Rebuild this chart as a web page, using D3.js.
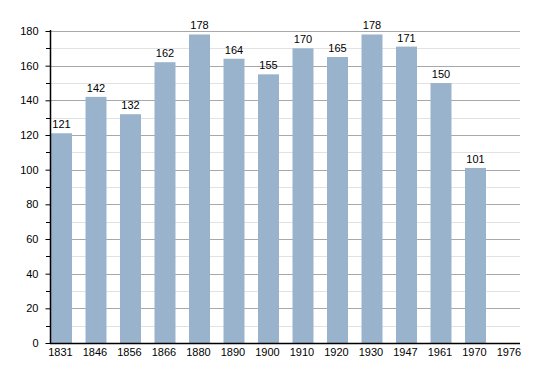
<!DOCTYPE html>
<html>
<head>
<meta charset="utf-8">
<script src="https://cdn.jsdelivr.net/npm/d3@7"></script>
<style>
body{margin:0;background:#fff}
text{font-family:"Liberation Sans",Arial,sans-serif;font-size:11px;fill:#000}
</style>
</head>
<body>
<div id="chart"></div>
<script>
var years = ["1831","1846","1856","1866","1880","1890","1900","1910","1920","1930","1947","1961","1970","1976"]
var population = [121,142,132,162,178,164,155,170,165,178,171,150,101,null]
var majorTicks = [0,20,40,60,80,100,120,140,160,180]
var minorTicks = [10,30,50,70,90,110,130,150,170]

var width = 550, height = 373
var plotLeft = 50, plotRight = 520, plotTop = 31, plotBottom = 343

var svg = d3.select("#chart").append("svg").attr("width",width).attr("height",height)

var y = d3.scaleLinear().domain([0,180]).range([plotBottom,plotTop])
var x = d3.scaleBand().domain(years).range([51,51+34.5*years.length]).padding(0)
var barWidth = 21

// grid
svg.selectAll(".minor").data(minorTicks).enter().append("line")
    .attr("x1",plotLeft).attr("x2",plotRight)
    .attr("y1",function(d){return Math.round(y(d))+0.5})
    .attr("y2",function(d){return Math.round(y(d))+0.5})
    .attr("stroke","#e2e2e2")
svg.selectAll(".major").data(majorTicks.slice(1)).enter().append("line")
    .attr("x1",plotLeft).attr("x2",plotRight)
    .attr("y1",function(d){return Math.round(y(d))+0.5})
    .attr("y2",function(d){return Math.round(y(d))+0.5})
    .attr("stroke","#a8a8a8")

// bars
var data = years.map(function(d,i){return {year:d,value:population[i]}}).filter(function(d){return d.value!=null})
svg.selectAll(".bar").data(data).enter().append("rect")
    .attr("x",function(d){return x(d.year)})
    .attr("y",function(d){return y(d.value)})
    .attr("width",barWidth)
    .attr("height",function(d){return y(0)-y(d.value)})
    .attr("fill","#9ab3cd")

svg.selectAll(".val").data(data).enter().append("text")
    .text(function(d){return d.value})
    .attr("x",function(d){return x(d.year)+barWidth/2})
    .attr("y",function(d){return y(d.value)-5})
    .attr("text-anchor","middle")

// y axis
var yAxis = d3.axisLeft(y).tickValues(majorTicks).tickSize(5).tickPadding(7)
var ya = svg.append("g").attr("transform","translate("+(plotLeft+0.5)+",0)").call(yAxis)
ya.selectAll("text").attr("font-size",11).style("font-family","Liberation Sans, Arial, sans-serif")
ya.selectAll(".tick line").attr("stroke","#000")
ya.select(".domain").remove()
svg.selectAll(".minortick").data(minorTicks).enter().append("line")
    .attr("x1",plotLeft-4).attr("x2",plotLeft)
    .attr("y1",function(d){return Math.round(y(d))+0.5})
    .attr("y2",function(d){return Math.round(y(d))+0.5})
    .attr("stroke","#000")
svg.append("line").attr("x1",plotLeft+0.5).attr("x2",plotLeft+0.5).attr("y1",plotTop-1).attr("y2",plotBottom+1).attr("stroke","#000").attr("stroke-width",1.5)

// x axis
svg.append("line").attr("x1",plotLeft).attr("x2",plotRight).attr("y1",plotBottom+0.5).attr("y2",plotBottom+0.5).attr("stroke","#000").attr("stroke-width",1.5)
svg.selectAll(".xl").data(years).enter().append("text")
    .text(function(d){return d})
    .attr("x",function(d){return x(d)+barWidth/2-1})
    .attr("y",plotBottom+13)
    .attr("text-anchor","middle")
</script>
</body>
</html>
